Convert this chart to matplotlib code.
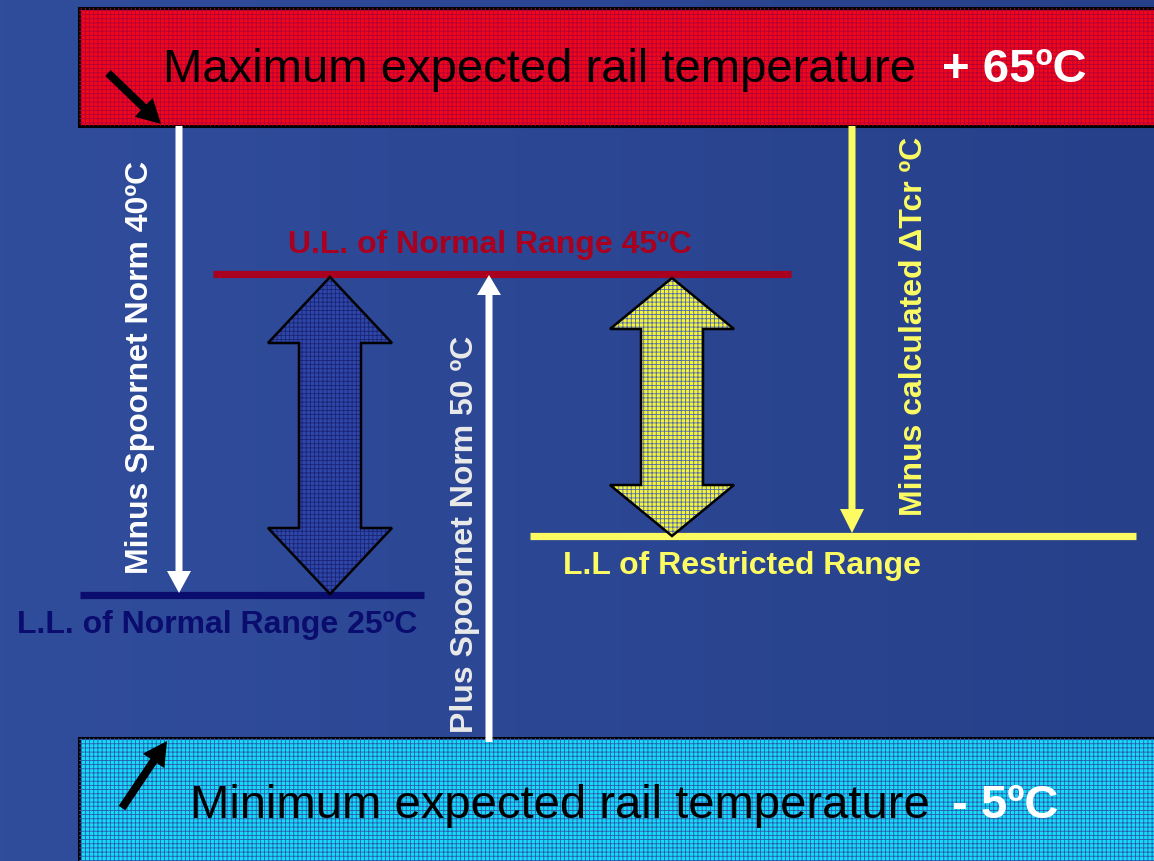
import numpy as np
import matplotlib
matplotlib.use("Agg")
import matplotlib.pyplot as plt
from matplotlib import patches

plt.rcParams['font.family'] = ['Liberation Sans', 'DejaVu Sans']
plt.rcParams['hatch.linewidth'] = 0.6

# ---- data (temperatures, °C) ----
max_temp = 65
min_temp = -5
ul_normal = 45
ll_normal = 25
minus_norm = 40
plus_norm = 50
label_max = "Maximum expected rail temperature"
label_min = "Minimum expected rail temperature"
label_ul = f"U.L. of Normal Range {ul_normal}ºC"
label_ll = f"L.L. of Normal Range {ll_normal}ºC"
label_restricted = "L.L of Restricted Range"
label_minus_norm = f"Minus Spoornet Norm {minus_norm}ºC"
label_plus_norm = f"Plus Spoornet Norm {plus_norm} ºC"
label_minus_calc = "Minus calculated ΔTcr ºC"

W, H = 1154, 861
fig = plt.figure(figsize=(W / 100, H / 100), dpi=100)
ax = fig.add_axes([0, 0, 1, 1])
ax.set_xlim(0, W)
ax.set_ylim(H, 0)
ax.axis('off')

# background gradient
c1 = np.array([0x30, 0x4D, 0x9C]) / 255
c2 = np.array([0x27, 0x40, 0x8A]) / 255
t = np.linspace(0, 1, 256)[None, :, None]
grad = c1 * (1 - t) + c2 * t
ax.imshow(grad, extent=[0, W, H, 0], aspect='auto', zorder=0)

YEL = '#FCFC62'

# ---- top (max) box ----
ax.add_patch(patches.Rectangle((79, 8), 1100, 118, facecolor='#F0081A',
                               edgecolor='black', lw=2.2, zorder=2))
ax.add_patch(patches.Rectangle((79, 8), 1100, 118, facecolor='none',
                               edgecolor='#B00038', hatch='++++', lw=0, zorder=2.1))
ax.text(163, 70, label_max, fontsize=34, color='black', va='center', ha='left', zorder=5)
ax.text(1087, 70, f"+ {max_temp}ºC", fontsize=34, color='white', fontweight='bold',
        va='center', ha='right', zorder=5)

# ---- bottom (min) box ----
ax.add_patch(patches.Rectangle((79, 738), 1100, 140, facecolor='#14DCF6',
                               edgecolor='black', lw=2.2, zorder=2))
ax.add_patch(patches.Rectangle((79, 738), 1100, 140, facecolor='none',
                               edgecolor='#2E58B0', hatch='++++', lw=0, zorder=2.1))
ax.text(190, 806, label_min, fontsize=34, color='black', va='center', ha='left', zorder=5)
ax.text(1058, 806, f"- {abs(min_temp)}ºC", fontsize=34, color='white', fontweight='bold',
        va='center', ha='right', zorder=5)

# pointer / level arrows
def arrow(x0, y0, x1, y1, color, w, hw, hl, z=4):
    ax.add_patch(patches.FancyArrow(x0, y0, x1 - x0, y1 - y0, width=w, head_width=hw,
                                    head_length=hl, length_includes_head=True,
                                    color=color, lw=0, zorder=z))

arrow(108, 73, 161, 124, 'black', 8, 26, 24)
arrow(122, 808, 167, 741, 'black', 8, 26, 24)

# ---- level lines ----
ax.plot([213, 791], [274, 274], color='#A8001E', lw=5.2, solid_capstyle='butt', zorder=3)
ax.plot([80, 424], [595, 595], color='#0A0C6E', lw=5.2, solid_capstyle='butt', zorder=3)
ax.plot([530, 1136], [536, 536], color=YEL, lw=5.2, solid_capstyle='butt', zorder=3)

FS = 23
ax.text(490, 245, label_ul, fontsize=FS, color='#A8001E', fontweight='bold',
        va='center', ha='center', zorder=5)
ax.text(17, 625, label_ll, fontsize=FS, color='#0A0C6E', fontweight='bold',
        va='center', ha='left', zorder=5)
ax.text(563, 566, label_restricted, fontsize=FS, color=YEL, fontweight='bold',
        va='center', ha='left', zorder=5)

# ---- vertical arrows ----
arrow(179, 126, 179, 593, 'white', 7, 24, 22)
arrow(489, 742, 489, 275, 'white', 7, 24, 20)
arrow(852, 126, 852, 533, YEL, 7, 24, 24)

ax.text(140, 367, label_minus_norm, fontsize=FS, color='white', fontweight='bold',
        rotation=90, va='center', ha='center', zorder=5)
ax.text(465, 534, label_plus_norm, fontsize=FS, color='#EAEAEA', fontweight='bold',
        rotation=90, va='center', ha='center', zorder=5)
ax.text(914, 326, label_minus_calc, fontsize=FS, color=YEL, fontweight='bold',
        rotation=90, va='center', ha='center', zorder=5)

# ---- double block arrows ----
def double_arrow(cx, ytop, ybot, hhw, hh, shw, face, hatchc):
    pts = [(cx, ytop), (cx + hhw, ytop + hh), (cx + shw, ytop + hh),
           (cx + shw, ybot - hh), (cx + hhw, ybot - hh), (cx, ybot),
           (cx - hhw, ybot - hh), (cx - shw, ybot - hh), (cx - shw, ytop + hh),
           (cx - hhw, ytop + hh)]
    ax.add_patch(patches.Polygon(pts, closed=True, facecolor=face, edgecolor='none', zorder=3))
    ax.add_patch(patches.Polygon(pts, closed=True, facecolor='none', edgecolor=hatchc,
                                 hatch='++++', lw=0, zorder=3.1))
    ax.add_patch(patches.Polygon(pts, closed=True, facecolor='none', edgecolor='black',
                                 lw=1.8, joinstyle='miter', zorder=3.2))

double_arrow(330, 277, 594, 62, 66, 31, '#2E46AA', '#1A2470')
double_arrow(672, 278, 536, 62, 51, 31, '#F4F43C', '#5068B0')

fig.savefig('out.png', dpi=100)
